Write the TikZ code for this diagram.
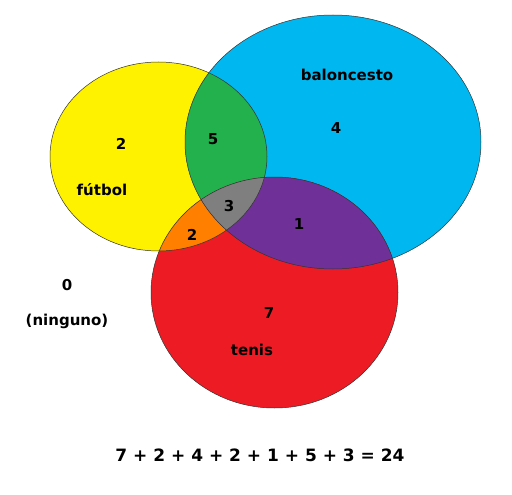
\documentclass[tikz,border=0pt]{standalone}
\usepackage{fontspec}
\setmainfont{DejaVu Sans}

\definecolor{futbolcol}{RGB}{255,242,0}
\definecolor{balcol}{RGB}{0,183,239}
\definecolor{teniscol}{RGB}{237,28,36}
\definecolor{fbcol}{RGB}{34,177,76}
\definecolor{ftcol}{RGB}{255,127,0}
\definecolor{btcol}{RGB}{111,49,152}
\definecolor{allcol}{RGB}{127,127,127}

\newcommand\futbolset{(158.5,156.5) ellipse [x radius=108.5pt, y radius=94.5pt]}
\newcommand\balset{(333,142) ellipse [x radius=148pt, y radius=127pt]}
\newcommand\tenisset{(274.5,292.5) ellipse [x radius=123.5pt, y radius=115.5pt]}

\begin{document}
\begin{tikzpicture}[
	x=1pt, y=-1pt,
	every node/.style={inner sep=1pt, font=\fontsize{15}{18}\selectfont\bfseries},
	rim/.style={draw=black!80, line width=0.5pt}
]

\useasboundingbox (0,0) rectangle (512,495);

% the three sets
\fill[futbolcol] \futbolset;
\fill[balcol] \balset;
\fill[teniscol] \tenisset;

% pairwise overlaps
\begin{scope}
	\clip \futbolset;
	\fill[fbcol] \balset;
	\fill[ftcol] \tenisset;
\end{scope}
\begin{scope}
	\clip \balset;
	\fill[btcol] \tenisset;
	\clip \tenisset;
	\fill[allcol] \futbolset;
\end{scope}

\draw[rim] \futbolset;
\draw[rim] \balset;
\draw[rim] \tenisset;

% labels
\node (bal) at (347,75) {baloncesto};
\node (nbal) at (336,128) {4};
\node (nfut) at (121,144) {2};
\node (fut) at (102,190) {fútbol};
\node (nfb) at (213,139) {5};
\node (nall) at (229,206) {3};
\node (nft) at (192,235) {2};
\node (nbt) at (299,224) {1};
\node (nnone) at (67,285) {0};
\node (none) at (67,321) {(ninguno)};
\node (nten) at (269,313) {7};
\node (ten) at (252,350) {tenis};

\node[font=\fontsize{17}{20}\selectfont\bfseries] (sum) at (260,455) {7 + 2 + 4 + 2 + 1 + 5 + 3 = 24};

\end{tikzpicture}
\end{document}
